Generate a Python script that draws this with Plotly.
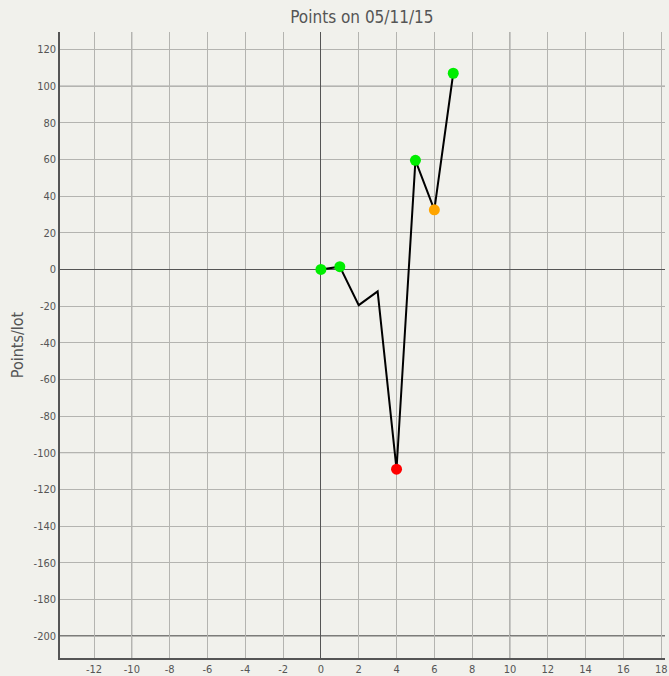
import plotly.graph_objects as go

# points per lot, one value per trade
trade_no = [0, 1, 2, 3, 4, 5, 6, 7]
points = [0, 1.5, -19.5, -12, -109, 59.5, 32.5, 107]

# marker colour per trade (None = no marker)
marker_colors = ["#00ee00", "#00ee00", None, None, "#ff0000", "#00ee00", "#ffa500", "#00ee00"]

title_text = "Points on 05/11/15"
y_title = "Points/lot"

# tick labels (plain hyphen, like the original)
x_ticks = list(range(-12, 19, 2))
y_ticks = list(range(-200, 121, 20))

# heavier grid lines
x_major = [-10, 10]
y_major = [-100, 100]
y_dark = [-200]

bg = "#f1f1ec"
text_col = "#555555"

fig = go.Figure()

fig.add_trace(go.Scatter(
    x=trade_no, y=points, mode="lines",
    line=dict(color="black", width=2),
    hoverinfo="skip", showlegend=False,
))

mx = [x for x, c in zip(trade_no, marker_colors) if c]
my = [y for y, c in zip(points, marker_colors) if c]
mc = [c for c in marker_colors if c]
fig.add_trace(go.Scatter(
    x=mx, y=my, mode="markers",
    marker=dict(color=mc, size=11, line=dict(width=0)),
    showlegend=False,
))

shapes = []
for v in x_major:
    shapes.append(dict(type="line", xref="x", yref="paper", x0=v, x1=v, y0=0, y1=1,
                       line=dict(color="#9a9a9a", width=1), layer="below"))
for v in y_major:
    shapes.append(dict(type="line", xref="paper", yref="y", x0=0, x1=1, y0=v, y1=v,
                       line=dict(color="#9a9a9a", width=1), layer="below"))
for v in y_dark:
    shapes.append(dict(type="line", xref="paper", yref="y", x0=0, x1=1, y0=v, y1=v,
                       line=dict(color="#555555", width=1.5), layer="below"))

fig.update_layout(
    width=669, height=676,
    margin=dict(l=60, r=4, t=32, b=18),
    paper_bgcolor=bg, plot_bgcolor=bg,
    font=dict(family="DejaVu Sans Condensed, DejaVu Sans", size=11, color=text_col),
    title=dict(text=title_text, x=0.541, xanchor="center", y=0.975, yanchor="middle",
               font=dict(size=17, color=text_col)),
    shapes=shapes,
    xaxis=dict(
        range=[-13.8, 18.2],
        tickvals=x_ticks, ticktext=[str(v) for v in x_ticks],
        showgrid=True, gridcolor="#b4b4b0", gridwidth=1,
        zeroline=True, zerolinecolor="#555555", zerolinewidth=1,
        showline=True, linecolor="#555555", linewidth=1.5,
        ticks="", automargin=False,
    ),
    yaxis=dict(
        range=[-212, 129.5],
        tickvals=y_ticks, ticktext=[str(v) for v in y_ticks],
        showgrid=True, gridcolor="#b4b4b0", gridwidth=1,
        zeroline=True, zerolinecolor="#555555", zerolinewidth=1,
        showline=True, linecolor="#555555", linewidth=1.5,
        ticks="", automargin=False,
        title=dict(text=y_title, font=dict(size=16, color=text_col), standoff=6),
    ),
)

fig.write_html("out.html", config={"displayModeBar": False},
               post_script="document.body.style.margin='0';")
